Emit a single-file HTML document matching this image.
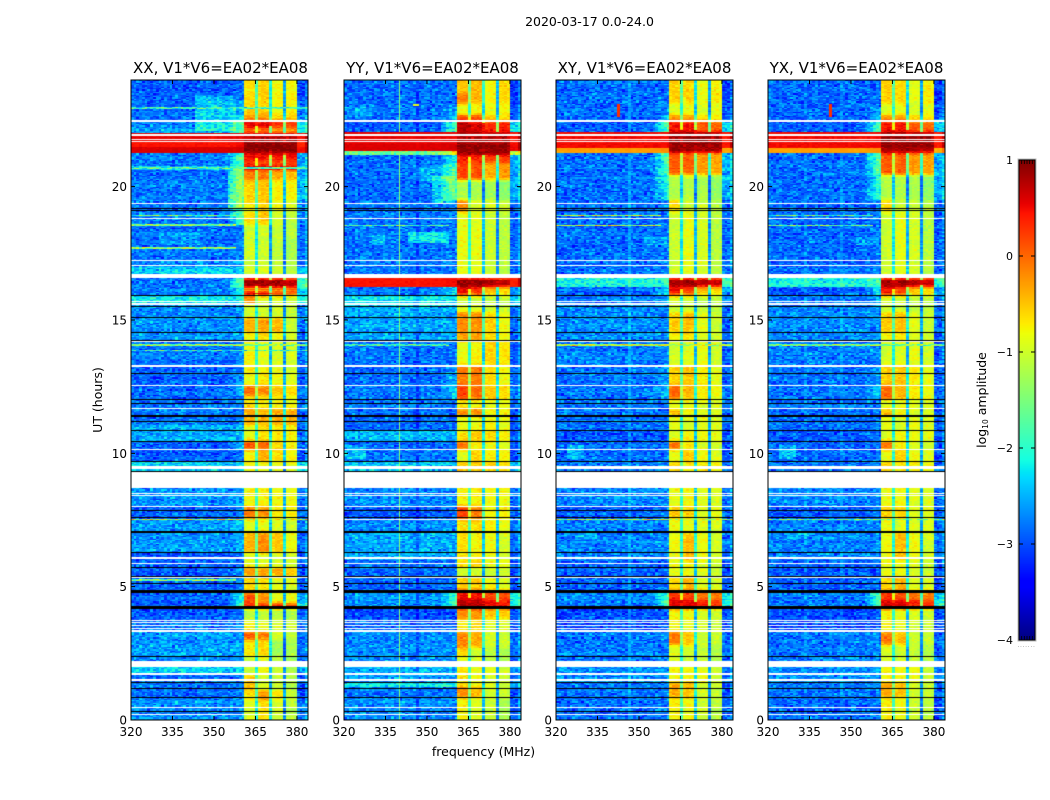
<!DOCTYPE html>
<html lang="en">
<head>
<meta charset="utf-8">
<title>2020-03-17 0.0-24.0</title>
<style>
html,body{margin:0;padding:0;background:#fff;}
#figure{position:relative;width:1050px;height:800px;overflow:hidden;background:#fff;font-family:"DejaVu Sans","Liberation Sans",sans-serif;color:#000;}
canvas{position:absolute;top:80px;width:177px;height:640px;display:block;}
#overlay{position:absolute;left:0;top:0;}
#overlay text{font-family:"DejaVu Sans","Liberation Sans",sans-serif;fill:#000;}
</style>
</head>
<body>
<div id="figure">
  <canvas id="c0" width="177" height="640" style="left:131px"></canvas>
  <canvas id="c1" width="177" height="640" style="left:344px"></canvas>
  <canvas id="c2" width="177" height="640" style="left:556px"></canvas>
  <canvas id="c3" width="177" height="640" style="left:768px"></canvas>
  <svg id="overlay" width="1050" height="800" viewBox="0 0 1050 800">
    <text x="589.5" y="26" font-size="12.5" text-anchor="middle">2020-03-17 0.0-24.0</text>
    <text x="483.5" y="756" font-size="12.5" text-anchor="middle">frequency (MHz)</text>
    <text transform="translate(102 400) rotate(-90)" font-size="12.5" text-anchor="middle">UT (hours)</text>
    <text transform="translate(986 400) rotate(-90)" font-size="12.5" text-anchor="middle">log<tspan font-size="7.5" dy="2">10</tspan><tspan dy="-2"> amplitude</tspan></text>
    <text x="1026.5" y="647" font-size="6" style="fill:#888;letter-spacing:.7px" text-anchor="middle">.......</text>
  </svg>
</div>
<script>
/* ---------- chart values (log10 amplitude) ---------- */
const panelNames = ["XX", "YY", "XY", "YX"];
const titleSuffix = ", V1*V6=EA02*EA08";
const freqTicks = [320, 335, 350, 365, 380];
const timeTicks = [0, 5, 10, 15, 20];
const colorTicks = [-4, -3, -2, -1, 0, 1];

/* each row: [top UT, background, subband1, subband2, subband3, subband4, shoulder 358-360 MHz, 380-384 MHz] */
const xxRows = [
[24,-2.85,-.6,-.55,-.8,-.75,-2.85,-3],[23.25,-2.8,-.55,-.55,-.8,-.7,-2.5,-2.9],[22.69,-2.7,-.25,-.2,-.6,-.5,-2,-2.6],
[22.5,-2.6,.55,.55,.3,.25,-1.6,-2.2],[22.2,-2.5,0,-.1,-.3,-.25,-1.7,-2.2],[22,.55,.75,.75,.75,.75,.55,.55],
[21.67,.45,.95,.95,.95,.95,.5,.45],[21.49,.6,.98,.98,.98,.98,.65,.55],[21.26,-2.65,.55,.5,.45,.55,-1.5,-2.5],
[21,-2.75,.3,.2,.15,.2,-1.7,-2.6],[20.78,-2.3,.75,.75,.65,.65,-1.6,-2.3],[20.63,-2.75,-.1,-.1,-.35,-.4,-1.6,-2.5],
[20.25,-2.7,-.55,-.5,-.75,-.75,-1.5,-2.4],[19.5,-2.75,-.7,-.55,-.85,-.9,-1.5,-2.6],[19.05,-2.7,-.6,-.5,-1,-1.1,-1.6,-2.7],
[18.56,-2.75,-1,-1,-1.05,-1.1,-2.7,-2.8],[18,-2.7,-.95,-1,-1.1,-1.2,-2.7,-2.8],[17.25,-2.6,-1.05,-1,-1.1,-1.2,-2.6,-2.8],
[16.99,-2.3,-.95,-.95,-1,-1.1,-2.3,-2.4],[16.57,-2.75,.85,.85,.8,.7,-1.6,-1.9],[16.2,-2.7,-.7,-.7,-.5,-.3,-2,-2.2],
[16.09,-2.7,.65,.55,.15,.15,-2,-2.3],[15.9,-2.1,-.25,-.9,-.9,-1,-2.1,-2.1],[15.56,-2.6,-.95,-1,-1,-1.05,-2.6,-2.7],
[15.07,-2.6,-.4,-.3,-.45,-1,-2.6,-2.7],[14.51,-2.6,-.75,-.65,-.85,-.95,-2.6,-2.8],[14.18,-2.7,-.75,-.85,-.95,-.9,-2.6,-2.8],
[13.27,-2.8,-.7,-.8,-.85,-.95,-2.8,-2.9],[13.01,-2.8,-.8,-.65,-.8,-.9,-2.6,-2.9],[12.52,-2.8,0,-.2,-.5,-.6,-2.3,-2.7],
[12.15,-2.75,-.6,-.7,-.8,-.8,-2.7,-2.8],[11.66,-2.7,-.35,-.4,-.35,-.35,-2.7,-2.8],[11.06,-2.45,-.85,-.65,-.7,-.75,-2.45,-2.8],
[10.46,-2.85,.1,0,-.6,-.7,-2.4,-2.8],[10.12,-2.85,-.7,-.4,-.65,-.75,-2.8,-2.9],[9.67,-2.25,-.75,-.8,-.9,-.85,-2.25,-2.3],
[8.7,-2.55,-.75,-.75,-.8,-.8,-2.55,-2.8],[7.99,-2.85,-.1,-.25,-.7,-.7,-2.6,-2.8],[7.5,-2.55,-.9,-.85,-.95,-1,-2.4,-2.7],
[7.05,-2.55,-.4,-.2,-.5,-.8,-2.5,-2.8],[6.26,-2.85,-.9,-.9,-1,-1,-2.8,-2.9],[5.74,-2.85,-.25,-.3,-.4,-.5,-2.6,-2.9],
[5.36,-2.8,-.55,-.65,-.9,-.9,-2.7,-2.9],[4.76,-2.85,.1,-.25,-.85,-.85,-2,-2.6],[4.39,-2.8,.35,.3,.3,.2,-1.6,-2.1],
[4.16,-2.85,-1.15,-1.1,-1.15,-1.2,-2.8,-2.9],[3.75,-2.7,-.7,-.85,-.95,-1,-2.7,-2.8],[3.3,-2.55,.1,-.1,-.95,-1.05,-2.55,-2.8],
[3,-2.55,-.7,-.6,-1.3,-1.2,-2.55,-2.8],[2.36,-2.6,-1,-.9,-1.1,-1.2,-2.6,-2.8],[1.99,-2.3,-1,-.8,-1,-1.2,-2.3,-2.5],
[1.69,-2.75,-.5,-.95,-1.05,-1.15,-2.7,-2.9],[1.13,-2.75,-.6,-.25,-.7,-1,-2.7,-2.9],[.75,-2.6,-.9,-.65,-1,-1.1,-2.6,-2.8]
];
const yyRows = [
[24,-2.75,-.5,-.4,-.75,-.6,-2.7,-3],[23.5,-2.75,-.1,-.4,-.75,-.6,-2.7,-3],[23.1,-2.7,-.85,-.75,-.8,-.75,-2.4,-2.9],
[22.69,-2.75,.2,.15,-.5,-.6,-2.1,-2.8],[22.45,-2.8,.75,.6,.35,.4,-1.6,-2.3],[22.05,.55,.8,.8,.8,.8,.55,.55],
[21.6,.6,.95,.95,.95,.95,.65,.6],[21.32,-1.5,.9,.9,.9,.9,-.4,-1],[21.2,-2.75,.4,.35,.2,.25,-1.9,-2.5],
[20.9,-2.75,.2,.15,-.35,-.25,-1.7,-2.5],[20.25,-2.75,-1.2,-1.2,-1.25,-1.4,-1.7,-2.4],[19.5,-2.7,-.2,-.9,-.9,-1,-2.6,-2.8],
[19.05,-2.7,-.85,-.85,-1,-1.1,-2.6,-2.8],[16.57,.45,.95,.95,.85,.75,.5,.45],[16.25,-2.7,.5,.3,-.4,-.6,-2,-2.6],
[15.92,-2.15,-1,-1,-1.1,-1.1,-2.15,-2.3],[15.5,-2.4,-.85,-.9,-1,-1.05,-2.4,-2.7],[15.3,-2.45,-.2,-.2,-.55,-.8,-2.45,-2.75],
[14.55,-2.5,-.3,-.25,-.6,-.8,-2.5,-2.8],[14.2,-2.7,-.85,-.75,-.55,-.65,-2.6,-2.85],[13.3,-2.75,-.1,-.1,-.6,-.8,-2.4,-2.85],
[12.55,-2.7,.2,0,-.5,-.6,-2.1,-2.7],[12.05,-2.7,-.7,-.75,-.85,-.85,-2.7,-2.8],[11.66,-2.75,-.2,-.15,-.7,-.75,-2.7,-2.9],
[11.4,-2.75,-.85,-.8,-.75,-.85,-2.7,-2.9],[10.86,-2.35,-.65,-.5,-.55,-.7,-2.35,-2.8],[10.48,-2.8,-.1,-.7,-.8,-.9,-2.7,-2.9],
[10.12,-2.7,-.9,-.55,-.7,-.75,-2.7,-2.9],[9.67,-2.3,-.5,-.5,-.55,-.6,-2.3,-2.4],[8.7,-2.6,-.75,-.75,-.8,-.8,-2.6,-2.8],
[8.03,-2.85,.2,-.1,-.75,-.7,-2.6,-2.85],[7.5,-2.6,-.65,-.6,-.7,-.85,-2.5,-2.75],[7.05,-2.45,-.65,-.75,-.8,-.95,-2.4,-2.75],
[6,-2.7,-.65,-.55,-.8,-.8,-2.7,-2.9],[5.74,-2.75,-1,-.95,-1,-1,-2.7,-2.9],[5.36,-2.8,-.5,-.5,-.75,-.9,-2.7,-2.9],
[4.88,-2.55,.5,.45,.2,.15,-1.7,-2.1],[4.5,-2.6,.75,.75,.55,.45,-1.5,-2],[4.18,-2.9,-.2,-.25,-.5,-.55,-2.85,-2.95],
[3.8,-2.8,-.7,-.6,-.85,-.9,-2.8,-2.9],[3.3,-2.6,-.15,-.35,-.95,-1,-2.5,-2.8],[2.7,-2.6,-.6,-1,-1.1,-1.2,-2.5,-2.8],
[2.36,-2.6,-.9,-.95,-1.1,-1.2,-2.5,-2.8],[1.99,-2.4,-.65,-.85,-.85,-.95,-2.4,-2.6],[1.69,-2.5,-.65,-.8,-.9,-1,-2.4,-2.7],
[1.43,-2.05,-.65,-.8,-.9,-1,-2,-2.4],[1.24,-2.7,-.2,-.4,-.95,-1,-2.7,-2.9],[.82,-2.6,-.75,-.9,-1,-1.2,-2.6,-2.8]
];
const xyRows = [
[24,-2.75,-.55,-.6,-.85,-.7,-2.75,-3],[23.1,-2.75,-.9,-.85,-.95,-.85,-2.6,-2.9],[22.69,-2.8,-.2,-.25,-.6,-.65,-2.2,-2.8],
[22.45,-2.8,.45,.45,.1,.05,-1.6,-2.3],[22.05,.5,.9,.9,.9,.9,.5,.5],[21.45,-.3,.85,.85,.8,.8,-.2,-.3],
[21.25,-2.75,.1,.05,-.25,-.3,-1.5,-2.5],[20.43,-2.75,-1.15,-1.15,-1.2,-1.35,-1.9,-2.5],[19.5,-2.75,-.6,-1,-1,-1.1,-2.6,-2.8],
[19.05,-2.75,-1,-.85,-.95,-1.1,-2.7,-2.8],[16.57,-2,.85,.85,.75,.7,-1.7,-1.9],[16.25,-2.85,.45,.2,-.45,-.6,-2.1,-2.6],
[15.92,-2.7,-.95,-1,-1.1,-1.1,-2.5,-2.8],[15.5,-2.6,-1.05,-1.05,-1.1,-1.1,-2.6,-2.8],[15.3,-2.6,-.55,-.45,-.85,-1,-2.6,-2.8],
[14.55,-2.6,-.75,-.7,-.9,-1,-2.6,-2.8],[14.2,-2.65,-.95,-.9,-.85,-.95,-2.6,-2.85],[13.3,-2.7,-.55,-.5,-.7,-.85,-2.5,-2.85],
[12.55,-2.7,0,-.4,-.7,-.8,-2.3,-2.8],[12.05,-2.7,-.85,-.85,-.9,-.9,-2.7,-2.8],[11.66,-2.75,-.45,-.75,-.9,-.9,-2.7,-2.9],
[11.4,-2.75,-.85,-.95,-.85,-.9,-2.7,-2.9],[10.86,-2.85,-.9,-.75,-.8,-.85,-2.8,-2.9],[10.48,-2.8,-.1,-.7,-.9,-.95,-2.7,-2.9],
[10.12,-2.75,-.85,-.55,-.8,-.9,-2.7,-2.9],[9.67,-2.7,-.55,-.7,-.7,-.75,-2.6,-2.8],[8.7,-2.6,-.85,-.8,-.9,-.9,-2.6,-2.8],
[8.03,-2.85,-.55,-.55,-.9,-.85,-2.7,-2.85],[7.5,-2.65,-.8,-.9,-.9,-.9,-2.6,-2.8],[7.05,-2.65,-.8,-.45,-.8,-.95,-2.6,-2.8],
[6,-2.8,-.85,-.8,-.9,-1,-2.8,-2.9],[5.36,-2.8,-.6,-.4,-.9,-.95,-2.7,-2.9],[4.88,-2.65,.3,.15,-.05,-.1,-1.7,-2.2],
[4.5,-2.7,.6,.6,.4,.3,-1.5,-2],[4.18,-2.9,-.75,-.85,-.95,-1,-2.85,-2.95],[3.3,-2.7,-.1,-.45,-1,-1,-2.6,-2.85],
[2.8,-2.7,-.9,-1,-1.05,-1.15,-2.6,-2.85],[1.99,-2.6,-.75,-.75,-.8,-1,-2.5,-2.8],[1.43,-2.7,-.35,-.45,-.95,-1,-2.6,-2.85],
[.85,-2.75,-.7,-.8,-1,-1.1,-2.7,-2.85]
];
/* YX is visually almost identical to XY in the reference */
const yxRows = xyRows;
const panelRows = [xxRows, yyRows, xyRows, yxRows];

/* flagged time ranges in UT hours: [top, bottom] */
const whiteFlags = [[22.49,22.44],[21.97,21.9],[21.8,21.76],[21.72,21.67],[19.39,19.35],[18.82,18.77],[17.25,17.2],[17.07,17.02],[16.73,16.57],[15.73,15.68],[15.63,15.56],[14.21,14.16],[13.31,13.25],[12.56,12.52],[11.7,11.66],[10.16,10.12],[9.52,9.4],[9.29,8.71],[8.53,8.49],[8.44,8.4],[8.03,7.99],[7.54,7.5],[6.13,6.03],[5.88,5.85],[5.37,5.33],[3.76,3.73],[3.66,3.63],[3.55,3.52],[3.45,3.42],[3.38,3.3],[2.21,2],[1.75,1.68],[1.53,1.45],[.49,.45],[.24,.2]];
const blackFlags = [[19.2,19.16],[19.12,19.08],[15.93,15.89],[15.54,15.5],[15.11,15.07],[14.55,14.51],[14.26,14.22],[13,12.96],[12.04,12],[11.89,11.85],[11.42,11.38],[11.2,11.16],[10.86,10.82],[10.48,10.44],[9.7,9.66],[9.34,9.3],[7.86,7.83],[7.7,7.67],[7.63,7.59],[7.07,7.03],[6.3,6.26],[5.74,5.71],[5.41,5.38],[5.14,5.11],[4.88,4.78],[4.28,4.18],[2.39,2.36],[1.43,1.4],[1.2,1.17],[1.1,1.07],[.85,.82],[.33,.29]];

/* thin interference lines: [panel, UT, level, up to MHz] */
const rfiLines = [[0,22.95,-1.9,384],[0,20.7,-1.8,384],[0,18.93,-1.6,358],[0,18.56,-1.5,358],[0,17.7,-1.4,358],[0,14.06,-1.4,384],[0,13.87,-1.9,384],[0,7.52,-1,384],[0,5.25,-1.5,358],[1,18.55,-1.8,358],[1,14.06,-1.9,358],[2,18.92,-1.1,358],[2,18.55,-1.1,358],[2,14.06,-1.1,384],[2,7.52,-1.1,384],[3,18.92,-1.7,358],[3,18.55,-1.6,358],[3,14.06,-1.5,384],[3,7.52,-1.5,384]];
/* broad faint emission patches: [panel, from MHz, to MHz, top UT, bottom UT, lift] */
const patches = [[0,343,358,23.4,22.1,.5],[0,330,345,18.3,17.8,.2],[0,355,360,20.7,19.2,.5],[1,320,330,23,22.6,.2],[1,345,360,20.8,20.2,.3],[1,352,360,20.4,19.4,.5],[1,343,358,18.3,17.9,.6],[1,330,335,18.2,17.8,.4],[1,320,328,10.3,9.8,.4],[2,352,360,18.1,17.8,.35],[2,324,330,10.3,9.8,.4],[2,327,335,7.1,6.8,.3],[3,352,360,18.1,17.8,.35],[3,324,330,10.3,9.8,.4],[3,327,335,7.1,6.8,.3]];
/* isolated bright marks: [panel, from MHz, to MHz, top UT, bottom UT, level] */
const brightMarks = [[2,342,343,23.1,22.6,.3],[3,342,343,23.1,22.6,.3],[1,345,347,23.1,23.02,-.9]];
/* narrow steady lines: [panel, MHz, level] */
const steadyLines = [[1,340,-1.45]];
/* hand-typed mottling table for the fine grain of the noise floor */
const grain = [2,-3,1,4,-1,-4,3,0,-2,2,5,-3,-1,1,-5,3,0,2,-2,-4,4,1,-1,3,-3,0,2,-5,1,4,-2,-1,3,-4,0,1,-3,5,-1,2,-2,0,4,-4,1,-1,3,-3,2,0,-5,4,1,-2,3,-1,-3,2,0,5,-4,1,-2,3,-1,0,-3,4,2,-4,1,-2,0,3,-5,2,4,-1,-3,1,0,3,-2,-4,5,1,-1,2,-3,0,4];

/* ---------- scales ---------- */
const FREQ_MIN = 320, FREQ_MAX = 384, UT_MIN = 0, UT_MAX = 24, LOG_MIN = -4, LOG_MAX = 1;
const PANEL_LEFT = [131, 344, 556, 768], PANEL_W = 177, PANEL_TOP = 80, PANEL_H = 640;
const xScale = (mhz, left) => left + (mhz - FREQ_MIN) * PANEL_W / (FREQ_MAX - FREQ_MIN);
const yScale = ut => PANEL_TOP + PANEL_H - (ut - UT_MIN) * PANEL_H / (UT_MAX - UT_MIN);
const cbarY = level => 640 - (level - LOG_MIN) * 480 / (LOG_MAX - LOG_MIN);

function ramp(v, pts) {
  for (let i = 1; i < pts.length; i++) {
    if (v <= pts[i][0]) {
      const a = pts[i - 1], b = pts[i];
      return a[1] + (b[1] - a[1]) * (v - a[0]) / (b[0] - a[0]);
    }
  }
  return pts[pts.length - 1][1];
}
function jet(level) {
  const v = Math.max(0, Math.min(1, (level - LOG_MIN) / (LOG_MAX - LOG_MIN)));
  return [
    255 * ramp(v, [[0,0],[.35,0],[.66,1],[.89,1],[1,.5]]),
    255 * ramp(v, [[0,0],[.125,0],[.375,1],[.64,1],[.91,0],[1,0]]),
    255 * ramp(v, [[0,.5],[.11,1],[.34,1],[.65,0],[1,0]])
  ];
}
const inRange = (list, ut) => list.some(f => ut <= f[0] && ut > f[1]);
function rowAt(rows, ut) {
  let found = rows[0];
  for (const r of rows) { if (ut <= r[0]) found = r; else break; }
  return found;
}
const GAP_DROP = [1.2, 1.6, 1.7];
function cellLevel(panel, row, bands, ch, tBin, ut, freq) {
  const mhz = FREQ_MIN + ch;
  const strong = row[1] > -1;
  const g = grain[(tBin * tBin * 3 + ch * tBin + ch * ch * 5 + panel * 11) % grain.length] + grain[(tBin * 13 + ch * ch * 7 + ch * tBin * 3 + panel * 5) % grain.length];
  let level;
  if (ch >= 41 && ch < 60) {
    const k = ch - 41;
    const seg = k < 4 ? 0 : k === 4 ? -1 : k < 9 ? 1 : k === 9 ? -2 : k < 14 ? 2 : k === 14 ? -3 : 3;
    if (seg < 0) {
      const near = bands[-seg - 1];
      level = (strong || near > .5) ? near - .1 : near - GAP_DROP[-seg - 1];
      level += g * .03;
    } else {
      const edge = (ch === 41 || ch === 46 || ch === 51 || ch === 56 || ch === 59) ? -.07 : 0;
      level = bands[seg] + edge + ((tBin + ch) % 2 ? .05 : -.05) + g * .022;
    }
  } else if (ch >= 60) {
    level = row[7] - .08 + (ch === 63 ? .3 : 0) + g * (strong ? .01 : .055);
  } else {
    const t = Math.max(0, Math.min(1, (ch - 34) / 6));
    level = row[1] + (row[6] - row[1]) * t + (strong ? g * .008 : g * .06 - .1);
  }
  for (const p of patches) {
    if (p[0] === panel && mhz >= p[1] && mhz < p[2] && ut <= p[3] && ut > p[4] && (ch < 41 || ch >= 60)) level += p[5];
  }
  if (ch < 41) {
    for (const s of steadyLines) { if (s[0] === panel && Math.abs(freq - s[1]) < .2) level = Math.max(level, s[2]); }
  }
  for (const m of brightMarks) {
    if (m[0] === panel && mhz >= m[1] && mhz < m[2] && ut <= m[3] && ut > m[4]) level = m[5];
  }
  return level;
}
function drawPanel(panel) {
  const cv = document.getElementById('c' + panel);
  const ctx = cv.getContext('2d');
  const img = ctx.createImageData(PANEL_W, PANEL_H);
  const rows = panelRows[panel];
  const lines = rfiLines.filter(l => l[0] === panel);
  for (let py = 0; py < PANEL_H; py++) {
    const ut = UT_MAX - (py + .5) * (UT_MAX - UT_MIN) / PANEL_H;
    const tBin = Math.floor(ut / .05);
    const row = rowAt(rows, ut);
    const up = rowAt(rows, ut + .08), down = rowAt(rows, ut - .08);
    const bands = [0, 1, 2, 3].map(b => (row[2 + b] * 2 + up[2 + b] + down[2 + b]) / 4);
    const line = lines.find(l => Math.abs(l[1] - ut) < .022);
    const white = inRange(whiteFlags, ut), black = inRange(blackFlags, ut);
    for (let px = 0; px < PANEL_W; px++) {
      const freq = FREQ_MIN + (px + .6) * (FREQ_MAX - FREQ_MIN) / PANEL_W;
      const ch = Math.min(63, Math.floor(freq - FREQ_MIN));
      let c;
      if (line && FREQ_MIN + ch < line[3]) {
        const g = grain[(ch * 5 + tBin) % grain.length];
        c = jet(line[2] + g * .15);
      } else if (black) c = [0, 0, 0];
      else if (white) c = [255, 255, 255];
      else c = jet(cellLevel(panel, row, bands, ch, tBin, ut, freq));
      const i = (py * PANEL_W + px) * 4;
      img.data[i] = c[0]; img.data[i + 1] = c[1]; img.data[i + 2] = c[2]; img.data[i + 3] = 255;
    }
  }
  ctx.putImageData(img, 0, 0);
}

/* ---------- svg helpers ---------- */
const NS = 'http://www.w3.org/2000/svg';
const svg = document.getElementById('overlay');
function el(tag, attrs, text) {
  const e = document.createElementNS(NS, tag);
  for (const k in attrs) e.setAttribute(k, attrs[k]);
  if (text !== undefined) e.textContent = text;
  svg.appendChild(e);
  return e;
}
const fmtLevel = v => (v < 0 ? '\u2212' + (-v) : String(v));

panelNames.forEach((name, p) => {
  drawPanel(p);
  const left = PANEL_LEFT[p], right = left + PANEL_W, lower = name.toLowerCase();

  const frame = el('rect', {x: left, y: PANEL_TOP, width: PANEL_W, height: PANEL_H, fill: 'none', stroke: '#000', 'stroke-width': 1});
  
  

  const title = el('text', {x: left + PANEL_W / 2 + (p === 0 ? 1 : 0), y: 73, 'font-size': 15, 'text-anchor': 'middle'}, name + titleSuffix);
  
  

  freqTicks.forEach(f => {
    const x = xScale(f, left);
    const tick = el('path', {d: `M${x} ${PANEL_TOP + PANEL_H}v-4M${x} ${PANEL_TOP}v4`, stroke: '#000', 'stroke-width': 1, fill: 'none'});
    
    
    const label = el('text', {x: x, y: 736, 'font-size': 12, 'text-anchor': 'middle'}, String(f));
    
    
  });
  timeTicks.forEach(t => {
    const y = yScale(t);
    const tick = el('path', {d: `M${left} ${y}h4M${right} ${y}h-4`, stroke: '#000', 'stroke-width': 1, fill: 'none'});
    
    
    const label = el('text', {x: left - 4, y: y + 4.5, 'font-size': 12, 'text-anchor': 'end'}, String(t));
    
    
  });
});

/* ---------- colour bar ---------- */
const CB_X = 1019, CB_W = 16, CB_STEPS = 240;
for (let i = 0; i < CB_STEPS; i++) {
  const lv = LOG_MIN + (i + .5) * (LOG_MAX - LOG_MIN) / CB_STEPS;
  const c = jet(lv);
  const yTop = cbarY(LOG_MIN + (i + 1) * (LOG_MAX - LOG_MIN) / CB_STEPS);
  const swatch = el('rect', {x: CB_X, y: yTop, width: CB_W, height: 480 / CB_STEPS + .4, fill: `rgb(${c[0] | 0},${c[1] | 0},${c[2] | 0})`});
  
  
}
const cbHalo = el('rect', {x: CB_X - 1, y: 159, width: CB_W + 2, height: 482, fill: 'none', stroke: '#bbb', 'stroke-width': 1});


const cbFrame = el('rect', {x: CB_X, y: 160, width: CB_W, height: 480, fill: 'none', stroke: '#000', 'stroke-width': 1});


colorTicks.forEach(v => {
  const y = cbarY(v);
  const tick = el('path', {d: `M${CB_X} ${y}h4M${CB_X + CB_W} ${y}h-4`, stroke: '#000', 'stroke-width': 1, fill: 'none'});
  
  
  const label = el('text', {x: 1013, y: y + 4, 'font-size': 11, 'text-anchor': 'end'}, fmtLevel(v));
  
  
});
for (let k = 1; k < 6; k++) {
  const x = CB_X + k * CB_W / 6;
  const small = el('path', {d: `M${x} 160v4M${x} 640v-4`, stroke: '#000', 'stroke-width': .8, fill: 'none'});
  
  
}
</script>
</body>
</html>
